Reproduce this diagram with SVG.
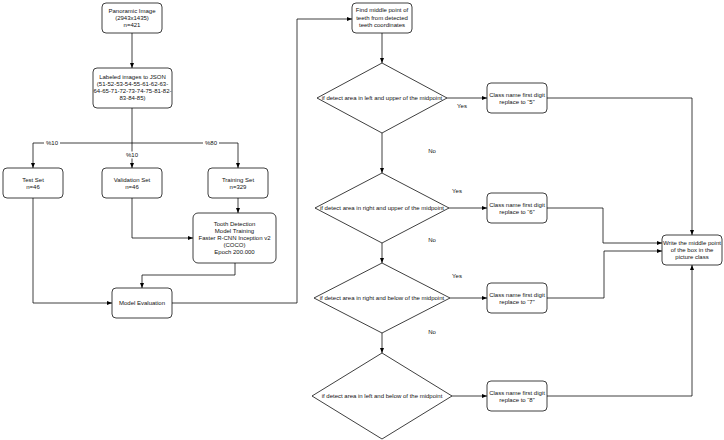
<svg xmlns="http://www.w3.org/2000/svg" width="724" height="440" viewBox="0 0 724 440">
<style>
.box{fill:#fff;stroke:#000;stroke-width:0.75}
.t{font-family:"Liberation Sans",Arial,sans-serif;font-size:6px;fill:#111;text-anchor:middle}
.c{fill:none;stroke:#000;stroke-width:0.75}
.lb{fill:#fff}
</style>
<defs>
<marker id="a" markerUnits="userSpaceOnUse" markerWidth="5" markerHeight="5" refX="5" refY="2.5" orient="auto">
<path d="M0,0.5 L5,2.5 L0,4.5 z" fill="#000"/>
</marker>
</defs>
<rect width="724" height="440" fill="#fff"/>
<g id="connectors">
<path class="c" d="M132,108 V168" marker-end="url(#a)"/>
<path class="c" d="M132,143 H33 V168" marker-end="url(#a)"/>
<path class="c" d="M132,143 H238 V168" marker-end="url(#a)"/>
<path class="c" d="M132,33 V68" marker-end="url(#a)"/>
<path class="c" d="M33,198 V303 H112" marker-end="url(#a)"/>
<path class="c" d="M132,198 V238 H193" marker-end="url(#a)"/>
<path class="c" d="M238,198 V213" marker-end="url(#a)"/>
<path class="c" d="M235,263 V275 H142 V288" marker-end="url(#a)"/>
<path class="c" d="M172,303 H297 V19 H352" marker-end="url(#a)"/>
<path class="c" d="M382,33 V63" marker-end="url(#a)"/>
<path class="c" d="M382,133 V173" marker-end="url(#a)"/>
<path class="c" d="M382,243 V263" marker-end="url(#a)"/>
<path class="c" d="M382,333 V353" marker-end="url(#a)"/>
<path class="c" d="M447,98 H487" marker-end="url(#a)"/>
<path class="c" d="M449,208 H487" marker-end="url(#a)"/>
<path class="c" d="M450,298 H487" marker-end="url(#a)"/>
<path class="c" d="M452,396 H487" marker-end="url(#a)"/>
<path class="c" d="M547,98 H692 V235" marker-end="url(#a)"/>
<path class="c" d="M547,208 H603 V243 H662" marker-end="url(#a)"/>
<path class="c" d="M547,298 H604 V251 H662" marker-end="url(#a)"/>
<path class="c" d="M547,396 H692 V265" marker-end="url(#a)"/>
<rect class="lb" x="44" y="139.5" width="16" height="7"/>
<text class="t" x="52" y="145">%10</text>
<rect class="lb" x="203" y="139.5" width="16" height="7"/>
<text class="t" x="211" y="145">%80</text>
<rect class="lb" x="124" y="151.5" width="16" height="7"/>
<text class="t" x="132" y="157">%10</text>
<text class="t" x="462" y="108">Yes</text>
<text class="t" x="457" y="193">Yes</text>
<text class="t" x="457" y="278">Yes</text>
<text class="t" x="432" y="153">No</text>
<text class="t" x="432" y="242">No</text>
<text class="t" x="432" y="334">No</text>
</g>
<g id="panoramic">
<rect class="box" x="102" y="3" width="60" height="30" rx="4"/>
<text class="t" x="132" y="13">Panoramic Image</text>
<text class="t" x="132" y="20">(2943x1435)</text>
<text class="t" x="132" y="27">n=421</text>
</g>
<g id="labeled">
<rect class="box" x="93" y="68" width="79" height="40" rx="4"/>
<text class="t" x="132.5" y="79">Labeled images to JSON</text>
<text class="t" x="132.5" y="86">(51-52-53-54-55-61-62-63-</text>
<text class="t" x="132.5" y="93">64-65-71-72-73-74-75-81-82-</text>
<text class="t" x="132.5" y="100">83-84-85)</text>
</g>
<g id="test">
<rect class="box" x="3" y="168" width="60" height="30" rx="4"/>
<text class="t" x="33" y="181.5">Test Set</text>
<text class="t" x="33" y="188.5">n=46</text>
</g>
<g id="validation">
<rect class="box" x="102" y="168" width="60" height="30" rx="4"/>
<text class="t" x="132" y="181.5">Validation Set</text>
<text class="t" x="132" y="188.5">n=46</text>
</g>
<g id="training">
<rect class="box" x="208" y="168" width="60" height="30" rx="4"/>
<text class="t" x="238" y="181.5">Training Set</text>
<text class="t" x="238" y="188.5">n=329</text>
</g>
<g id="tooth">
<rect class="box" x="193" y="213" width="83" height="50" rx="5"/>
<text class="t" x="234.5" y="226">Tooth Detection</text>
<text class="t" x="234.5" y="233">Model Training</text>
<text class="t" x="234.5" y="240">Faster R-CNN Inception v2</text>
<text class="t" x="234.5" y="247">(COCO)</text>
<text class="t" x="234.5" y="254">Epoch 200.000</text>
</g>
<g id="evaluation">
<rect class="box" x="112" y="288" width="60" height="30" rx="4"/>
<text class="t" x="142" y="305">Model Evaluation</text>
</g>
<g id="find">
<rect class="box" x="352" y="3" width="60" height="30" rx="4"/>
<text class="t" x="382" y="12">Find middle point of</text>
<text class="t" x="382" y="19.5">teeth from detected</text>
<text class="t" x="382" y="27">teeth coordinates</text>
</g>
<g id="d1">
<polygon class="box" points="382,63 447,98 382,133 317,98"/>
<text class="t" x="382" y="100">if detect area in left and upper of the midpoint</text>
</g>
<g id="d2">
<polygon class="box" points="382,173 449,208 382,243 315,208"/>
<text class="t" x="382" y="210">if detect area in right and upper of the midpoint</text>
</g>
<g id="d3">
<polygon class="box" points="382,263 450,298 382,333 314,298"/>
<text class="t" x="382" y="300">if detect area in right and below of the midpoint</text>
</g>
<g id="d4">
<polygon class="box" points="382,353 452,396 382,439 312,396"/>
<text class="t" x="382" y="398">if detect area in left and below of the midpoint</text>
</g>
<g id="c5">
<rect class="box" x="487" y="83" width="60" height="30" rx="4"/>
<text class="t" x="517" y="96.5">Class name first digit</text>
<text class="t" x="517" y="103.5">replace to “5”</text>
</g>
<g id="c6">
<rect class="box" x="487" y="193" width="60" height="30" rx="4"/>
<text class="t" x="517" y="206.5">Class name first digit</text>
<text class="t" x="517" y="213.5">replace to “6”</text>
</g>
<g id="c7">
<rect class="box" x="487" y="283" width="60" height="30" rx="4"/>
<text class="t" x="517" y="296.5">Class name first digit</text>
<text class="t" x="517" y="303.5">replace to “7”</text>
</g>
<g id="c8">
<rect class="box" x="487" y="381" width="60" height="30" rx="4"/>
<text class="t" x="517" y="394.5">Class name first digit</text>
<text class="t" x="517" y="401.5">replace to “8”</text>
</g>
<g id="write">
<rect class="box" x="662" y="235" width="60" height="30" rx="4"/>
<text class="t" x="692" y="245">Write the middle point</text>
<text class="t" x="692" y="252">of the box in the</text>
<text class="t" x="692" y="259">picture class</text>
</g>
</svg>
